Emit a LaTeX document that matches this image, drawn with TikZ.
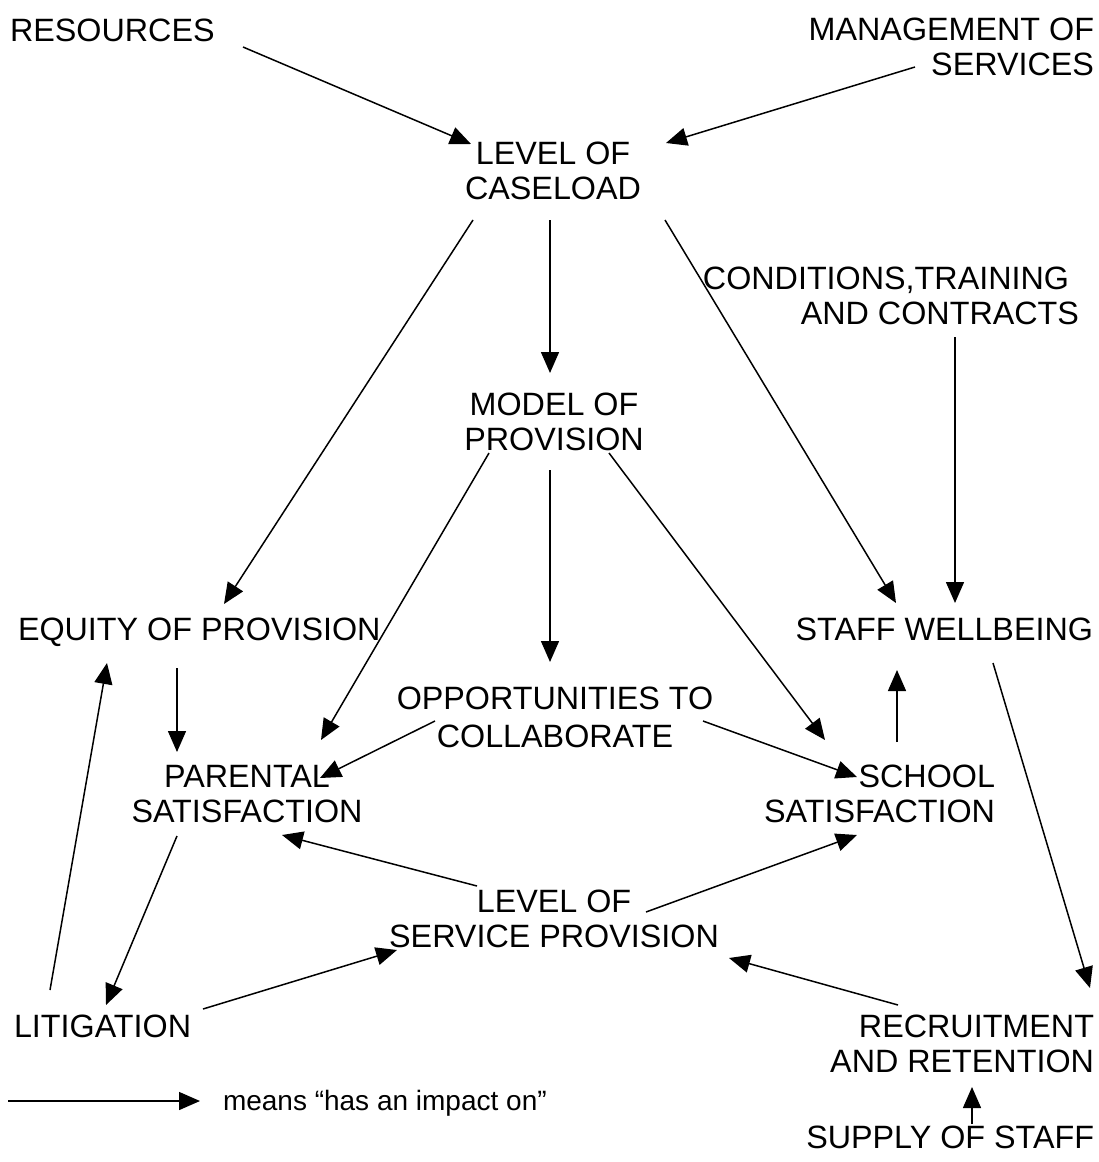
\documentclass[tikz,border=0pt]{standalone}
\usepackage{fontspec}
\setmainfont{Liberation Sans}
\usetikzlibrary{arrows.meta}
\begin{document}
\begin{tikzpicture}[x=1pt,y=-1pt,
  lbl/.style={font=\fontsize{32.3pt}{35.5pt}\selectfont, inner sep=0pt, outer sep=0pt},
  arr/.style={-{Triangle[length=21pt,width=18pt]}, line width=1.5pt}]
\fill[white] (0,0) rectangle (1098,1162);
\useasboundingbox (0,0) rectangle (1098,1162);
% nodes
\node[lbl, anchor=base west] (res) at (10,41) {RESOURCES};
\node[lbl, anchor=south east, align=right] (mgmt) at (1094,76) {MANAGEMENT OF\\SERVICES};
\node[lbl, anchor=south, align=center] (loc) at (553,200) {LEVEL OF\\CASELOAD};
\node[lbl, anchor=south east, align=right] (cond) at (1079,325) {CONDITIONS,TRAINING\hspace*{10pt}\\AND CONTRACTS};
\node[lbl, anchor=south, align=center] (model) at (554,451) {MODEL OF\\PROVISION};
\node[lbl, anchor=base west] (equity) at (18,640) {EQUITY OF PROVISION};
\node[lbl, anchor=base east] (staff) at (1093,640) {STAFF WELLBEING};
\node[lbl, anchor=south, align=center] (opp) at (555,748) {OPPORTUNITIES TO\\[2.5pt]COLLABORATE};
\node[lbl, anchor=south, align=center] (par) at (247,823) {PARENTAL\\SATISFACTION};
\node[lbl, anchor=south east, align=right] (school) at (995,823) {SCHOOL\\SATISFACTION};
\node[lbl, anchor=south, align=center] (losp) at (554,948) {LEVEL OF\\SERVICE PROVISION};
\node[lbl, anchor=base west] (lit) at (14,1037) {LITIGATION};
\node[lbl, anchor=south east, align=right] (rec) at (1094,1073) {RECRUITMENT\\AND RETENTION};
\node[lbl, anchor=base east] (supply) at (1094,1148) {SUPPLY OF STAFF};
\node[lbl, font=\fontsize{28pt}{32pt}\selectfont, anchor=base west] (leg) at (223,1110) {means “has an impact on”};
\coordinate (legA) at (8,1101);
\coordinate (legB) at (200,1101);
% connectors
\draw[arr] ([shift={(233,6)}]res.base west) -- ([shift={(-82,-56)}]loc.south);
\draw[arr] ([shift={(-179,-9)}]mgmt.south east) -- ([shift={(113,-57)}]loc.south);
\draw[arr] ([shift={(-3,20)}]loc.south) -- ([shift={(-4,-78)}]model.south);
\draw[arr] ([shift={(-80,20)}]loc.south) -- ([shift={(206,-36)}]equity.base west);
\draw[arr] ([shift={(112,20)}]loc.south) -- ([shift={(-197,-37)}]staff.base east);
\draw[arr] ([shift={(-124,12)}]cond.south east) -- ([shift={(-138,-37)}]staff.base east);
\draw[arr] ([shift={(-4,19)}]model.south) -- ([shift={(-5,-86)}]opp.south);
\draw[arr] ([shift={(-65,2)}]model.south) -- ([shift={(74,-83)}]par.south);
\draw[arr] ([shift={(55,2)}]model.south) -- ([shift={(-170,-83)}]school.south east);
\draw[arr] ([shift={(159,28)}]equity.base west) -- ([shift={(-70,-71)}]par.south);
\draw[arr] ([shift={(-120,-27)}]opp.south) -- ([shift={(73,-45)}]par.south);
\draw[arr] ([shift={(148,-27)}]opp.south) -- ([shift={(-138,-46)}]school.south east);
\draw[arr] ([shift={(-98,-81)}]school.south east) -- ([shift={(-196,30)}]staff.base east);
\draw[arr] ([shift={(-100,23)}]staff.base east) -- ([shift={(-4,-85)}]rec.south east);
\draw[arr] ([shift={(-77,-62)}]losp.south) -- ([shift={(35,12)}]par.south);
\draw[arr] ([shift={(92,-36)}]losp.south) -- ([shift={(-138,12)}]school.south east);
\draw[arr] ([shift={(-70,13)}]par.south) -- ([shift={(92,-32)}]lit.base west);
\draw[arr] ([shift={(36,-47)}]lit.base west) -- ([shift={(89,23)}]equity.base west);
\draw[arr] ([shift={(189,-28)}]lit.base west) -- ([shift={(-157,2)}]losp.south);
\draw[arr] ([shift={(-196,-68)}]rec.south east) -- ([shift={(175,10)}]losp.south);
\draw[arr] ([shift={(-122,-24)}]supply.base east) -- ([shift={(-122,14)}]rec.south east);
\draw[arr] (legA) -- (legB);
\end{tikzpicture}
\end{document}
